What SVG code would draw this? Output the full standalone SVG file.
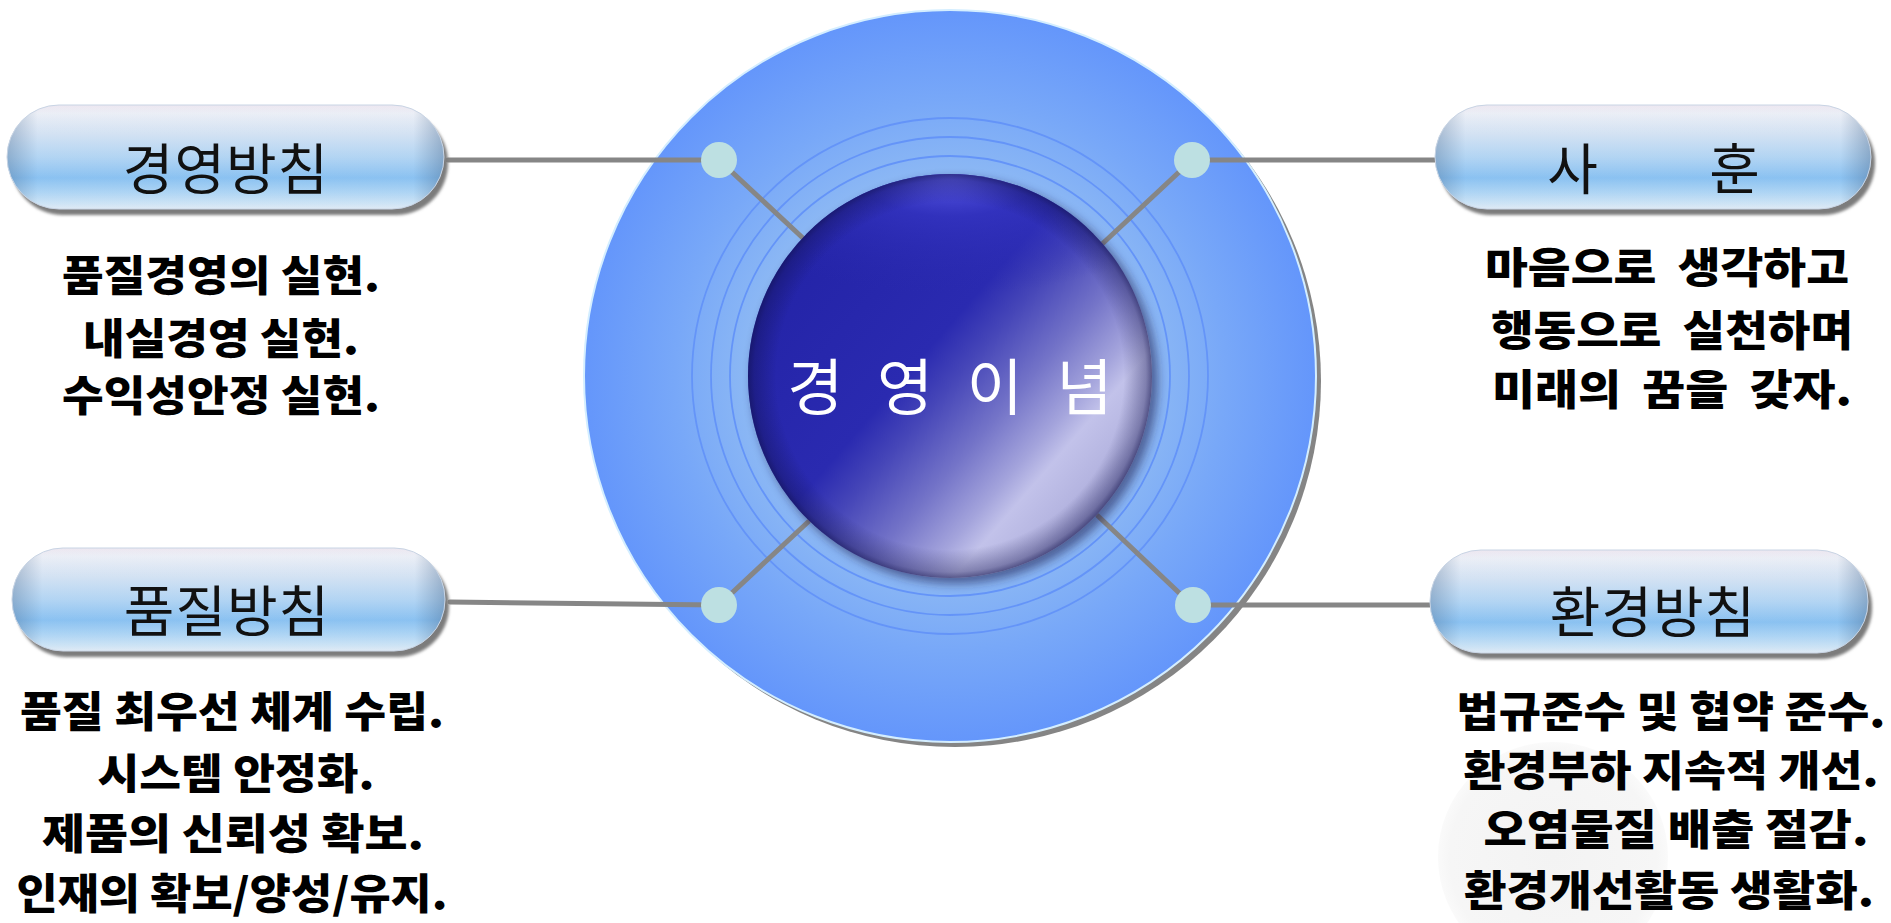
<svg xmlns="http://www.w3.org/2000/svg" width="1891" height="923" viewBox="0 0 1891 923">
  <defs>
    <style>
      .label { font-family: "Noto Sans CJK KR", "Noto Sans", sans-serif; font-size: 55px; fill: #111; text-anchor: middle; letter-spacing: 1px; }
      .body { font-family: "Noto Sans CJK KR", "Noto Sans", sans-serif; font-size: 42px; font-weight: 900; fill: #000; text-anchor: middle; white-space: pre; }
      .conn { stroke: #868686; stroke-width: 5; fill: none; stroke-linecap: round; }
      .dot { fill: #bde0e2; }
      .ring { fill: none; stroke: #6494f8; stroke-width: 1.8; }
      .pillshadow { fill: #7c7c7c; filter: url(#blur1); }
    </style>
    <filter id="blur1" x="-10%" y="-20%" width="120%" height="140%">
      <feGaussianBlur stdDeviation="1.5"/>
    </filter>
    <filter id="blur4" x="-20%" y="-20%" width="140%" height="140%">
      <feGaussianBlur stdDeviation="5"/>
    </filter>
    <linearGradient id="pillV" x1="0" y1="0" x2="0" y2="1">
      <stop offset="0" stop-color="#f6eef6"/>
      <stop offset="0.08" stop-color="#f4f6fc"/>
      <stop offset="0.28" stop-color="#dbe9f9"/>
      <stop offset="0.5" stop-color="#b9dbf9"/>
      <stop offset="0.7" stop-color="#8fc7f7"/>
      <stop offset="0.84" stop-color="#b4dbfa"/>
      <stop offset="0.95" stop-color="#d6ebfb"/>
      <stop offset="1" stop-color="#e8f2fb"/>
    </linearGradient>
    <linearGradient id="pillH" x1="0" y1="0" x2="1" y2="0">
      <stop offset="0" stop-color="#3a5a80" stop-opacity="0.35"/>
      <stop offset="0.07" stop-color="#3a5a80" stop-opacity="0.05"/>
      <stop offset="0.93" stop-color="#3a5a80" stop-opacity="0.05"/>
      <stop offset="1" stop-color="#3a5a80" stop-opacity="0.4"/>
    </linearGradient>
    <radialGradient id="bigFill" cx="0.5" cy="0.5" r="0.5">
      <stop offset="0" stop-color="#a4c8f4"/>
      <stop offset="0.55" stop-color="#8cb8f4"/>
      <stop offset="0.75" stop-color="#78a8f8"/>
      <stop offset="1" stop-color="#6496fb"/>
    </radialGradient>
    <linearGradient id="sphereBase" x1="0.15" y1="0.2" x2="0.9" y2="0.85">
      <stop offset="0" stop-color="#2424a8"/>
      <stop offset="0.38" stop-color="#2a2ab0"/>
      <stop offset="0.48" stop-color="#4646b8"/>
      <stop offset="0.62" stop-color="#7474c8"/>
      <stop offset="0.74" stop-color="#a4a4dc"/>
      <stop offset="0.8" stop-color="#c2c2ea"/>
      <stop offset="0.9" stop-color="#b4b4e0"/>
      <stop offset="1" stop-color="#9090c4"/>
    </linearGradient>
    <radialGradient id="sphereTop" cx="0.5" cy="0" r="0.5" gradientTransform="translate(0.5 0) scale(1.3 0.6) translate(-0.5 0)">
      <stop offset="0" stop-color="#6a6af8" stop-opacity="0.9"/>
      <stop offset="0.35" stop-color="#3838c8" stop-opacity="0.6"/>
      <stop offset="1" stop-color="#2a2ab0" stop-opacity="0"/>
    </radialGradient>
    <radialGradient id="sphereEdge" cx="0.5" cy="0.5" r="0.5">
      <stop offset="0.86" stop-color="#10104a" stop-opacity="0"/>
      <stop offset="0.97" stop-color="#10104a" stop-opacity="0.35"/>
      <stop offset="1" stop-color="#10104a" stop-opacity="0.6"/>
    </radialGradient>
    <radialGradient id="faint" cx="0.5" cy="0.5" r="0.5">
      <stop offset="0" stop-color="#f3f3f3"/>
      <stop offset="0.9" stop-color="#f6f6f6"/>
      <stop offset="1" stop-color="#fafafa"/>
    </radialGradient>
  </defs>

  <rect x="0" y="0" width="1891" height="923" fill="#ffffff"/>

  <!-- faint decorative circle behind bottom-right text -->
  <circle cx="1553" cy="857" r="115" fill="url(#faint)"/>

  <!-- central hub -->
  <g id="hub">
    <circle cx="955" cy="381" r="366" fill="#858585"/>
    <circle cx="950" cy="376" r="366" fill="url(#bigFill)" stroke="#d4eeff" stroke-width="2"/>
    <circle class="ring" cx="950" cy="376" r="258"/>
    <circle class="ring" cx="950" cy="376" r="239"/>
    <circle class="ring" cx="950" cy="376" r="220"/>
  </g>

  <!-- connectors -->
  <g id="connectors">
    <path class="conn" d="M448 160 H719 L805 240"/>
    <path class="conn" d="M1436 160 H1192 L1100 246"/>
    <path class="conn" d="M450 602 L719 605 L808 522"/>
    <path class="conn" d="M1432 605 H1192 L1098 516"/>
  </g>

  <!-- center sphere -->
  <g id="center">
    <circle cx="955" cy="381" r="203" fill="#1a1a50" opacity="0.55" filter="url(#blur4)"/>
    <circle cx="950" cy="376" r="202" fill="url(#sphereBase)"/>
    <circle cx="950" cy="376" r="202" fill="url(#sphereTop)"/>
    <circle cx="950" cy="376" r="202" fill="url(#sphereEdge)"/>
    <text x="955" y="410" font-family="'Noto Sans CJK KR', 'Noto Sans', sans-serif" font-size="61" fill="#ffffff" text-anchor="middle" letter-spacing="10">경 영 이 념</text>
  </g>

  <!-- junction dots -->
  <g id="dots">
    <circle class="dot" cx="719" cy="160" r="18"/>
    <circle class="dot" cx="1192" cy="160" r="18"/>
    <circle class="dot" cx="719" cy="605" r="18"/>
    <circle class="dot" cx="1193" cy="605" r="18"/>
  </g>

  <!-- pill: 경영방침 -->
  <g id="pill-management">
    <rect class="pillshadow" x="11" y="111" width="437" height="104" rx="52"/>
    <rect x="7" y="105" width="437" height="104" rx="52" fill="url(#pillV)"/>
    <rect x="7" y="105" width="437" height="104" rx="52" fill="url(#pillH)" stroke="#c8d4e4" stroke-width="1"/>
    <text class="label" x="226" y="189">경영방침</text>
  </g>

  <!-- pill: 사훈 -->
  <g id="pill-motto">
    <rect class="pillshadow" x="1439" y="111" width="436" height="104" rx="52"/>
    <rect x="1435" y="105" width="436" height="104" rx="52" fill="url(#pillV)"/>
    <rect x="1435" y="105" width="436" height="104" rx="52" fill="url(#pillH)" stroke="#c8d4e4" stroke-width="1"/>
    <text class="label" x="1654" y="189" word-spacing="97">사 훈</text>
  </g>

  <!-- pill: 품질방침 -->
  <g id="pill-quality">
    <rect class="pillshadow" x="16" y="554" width="433" height="103" rx="51"/>
    <rect x="12" y="548" width="433" height="103" rx="51" fill="url(#pillV)"/>
    <rect x="12" y="548" width="433" height="103" rx="51" fill="url(#pillH)" stroke="#c8d4e4" stroke-width="1"/>
    <text class="label" x="227" y="631">품질방침</text>
  </g>

  <!-- pill: 환경방침 -->
  <g id="pill-environment">
    <rect class="pillshadow" x="1434" y="556" width="438" height="103" rx="51"/>
    <rect x="1430" y="550" width="438" height="103" rx="51" fill="url(#pillV)"/>
    <rect x="1430" y="550" width="438" height="103" rx="51" fill="url(#pillH)" stroke="#c8d4e4" stroke-width="1"/>
    <text class="label" x="1653" y="632">환경방침</text>
  </g>

  <!-- text blocks -->
  <g id="text-management">
    <text class="body" x="221" y="291" textLength="318" lengthAdjust="spacingAndGlyphs">품질경영의 실현.</text>
    <text class="body" x="221" y="354" textLength="276" lengthAdjust="spacingAndGlyphs">내실경영 실현.</text>
    <text class="body" x="221" y="411" textLength="318" lengthAdjust="spacingAndGlyphs">수익성안정 실현.</text>
  </g>

  <g id="text-motto">
    <text class="body" x="1667" y="283" textLength="364" lengthAdjust="spacingAndGlyphs">마음으로  생각하고</text>
    <text class="body" x="1672" y="346" textLength="362" lengthAdjust="spacingAndGlyphs">행동으로  실천하며</text>
    <text class="body" x="1672" y="405" textLength="360" lengthAdjust="spacingAndGlyphs">미래의  꿈을  갖자.</text>
  </g>

  <g id="text-quality">
    <text class="body" x="232" y="727" textLength="424" lengthAdjust="spacingAndGlyphs">품질 최우선 체계 수립.</text>
    <text class="body" x="236" y="789" textLength="277" lengthAdjust="spacingAndGlyphs">시스템 안정화.</text>
    <text class="body" x="233" y="849" textLength="382" lengthAdjust="spacingAndGlyphs">제품의 신뢰성 확보.</text>
    <text class="body" x="232" y="909" textLength="431" lengthAdjust="spacingAndGlyphs">인재의 확보/양성/유지.</text>
  </g>

  <g id="text-environment">
    <text class="body" x="1671" y="727" textLength="429" lengthAdjust="spacingAndGlyphs">법규준수 및 협약 준수.</text>
    <text class="body" x="1671" y="786" textLength="415" lengthAdjust="spacingAndGlyphs">환경부하 지속적 개선.</text>
    <text class="body" x="1676" y="845" textLength="385" lengthAdjust="spacingAndGlyphs">오염물질 배출 절감.</text>
    <text class="body" x="1669" y="906" textLength="410" lengthAdjust="spacingAndGlyphs">환경개선활동 생활화.</text>
  </g>
</svg>
